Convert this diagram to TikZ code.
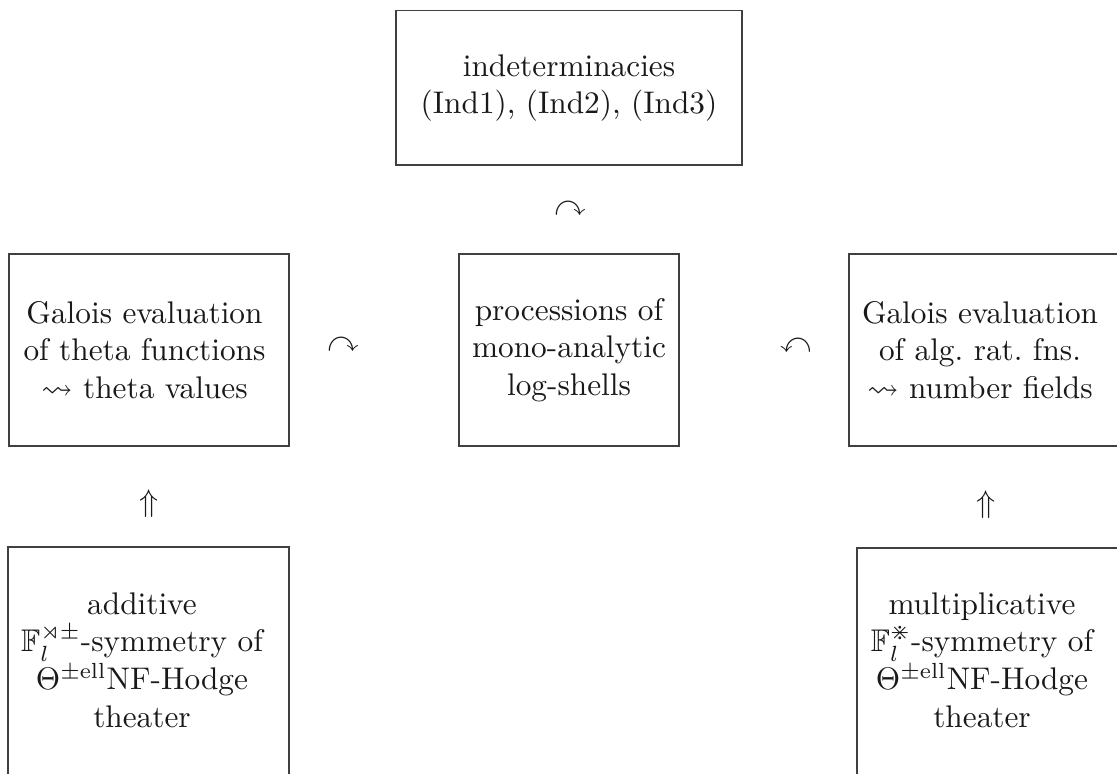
\documentclass[tikz,border=0pt]{standalone}
\usepackage{amssymb}
\usetikzlibrary{fit}
\begin{document}
\tikzset{
  box/.style={draw=black!75, line width=0.45pt, inner sep=0pt},
  txt/.style={align=center, inner sep=0pt, text=black!90},
  sym/.style={inner sep=0pt, text=black!90}
}
\begin{tikzpicture}[x=0.3195pt,y=-0.3195pt]
\useasboundingbox (0,0) rectangle (1117,774);
\clip (0,0) rectangle (1117,774);
% boxes
\node[box, fit={(396,10.7) (742,165)}] (T) {};
\node[box, fit={(459,254) (679,446)}] (C) {};
\node[box, fit={(9,254) (289,446)}] (L) {};
\node[box, fit={(849,254) (1129,446)}] (R) {};
\node[box, fit={(8,547) (289,778)}] (BL) {};
\node[box, fit={(857,548) (1121,778)}] (BR) {};
% texts
\node[txt] (Tt) at (569,88) {indeterminacies\\(Ind1), (Ind2), (Ind3)};
\node[txt] (Ct) at (569,350) {processions of\\mono-analytic\\log-shells};
\node[txt] (Lt) at (144.5,350) {Galois evaluation\\of theta functions\\$\rightsquigarrow$ theta values};
\node[txt] (Rt) at (980,350) {Galois evaluation\\of alg.\ rat.\ fns.\\$\rightsquigarrow$ number fields};
\node[txt] (BLt) at (142,660) {additive\\$\mathbb{F}_l^{\rtimes\pm}$-symmetry of\\$\Theta^{\pm\mathrm{ell}}$NF-Hodge\\theater};
\node[txt] (BRt) at (982,660) {multiplicative\\$\mathbb{F}_l^{\divideontimes}$-symmetry of\\$\Theta^{\pm\mathrm{ell}}$NF-Hodge\\theater};
% symbols
\node[sym] (s1) at (570,209) {$\curvearrowright$};
\node[sym] (s2) at (343,345) {$\curvearrowright$};
\node[sym] (s3) at (796,346) {$\curvearrowleft$};
\node[sym] (s4) at (149,504) {$\Uparrow$};
\node[sym] (s5) at (986,505) {$\Uparrow$};
\end{tikzpicture}
\end{document}
